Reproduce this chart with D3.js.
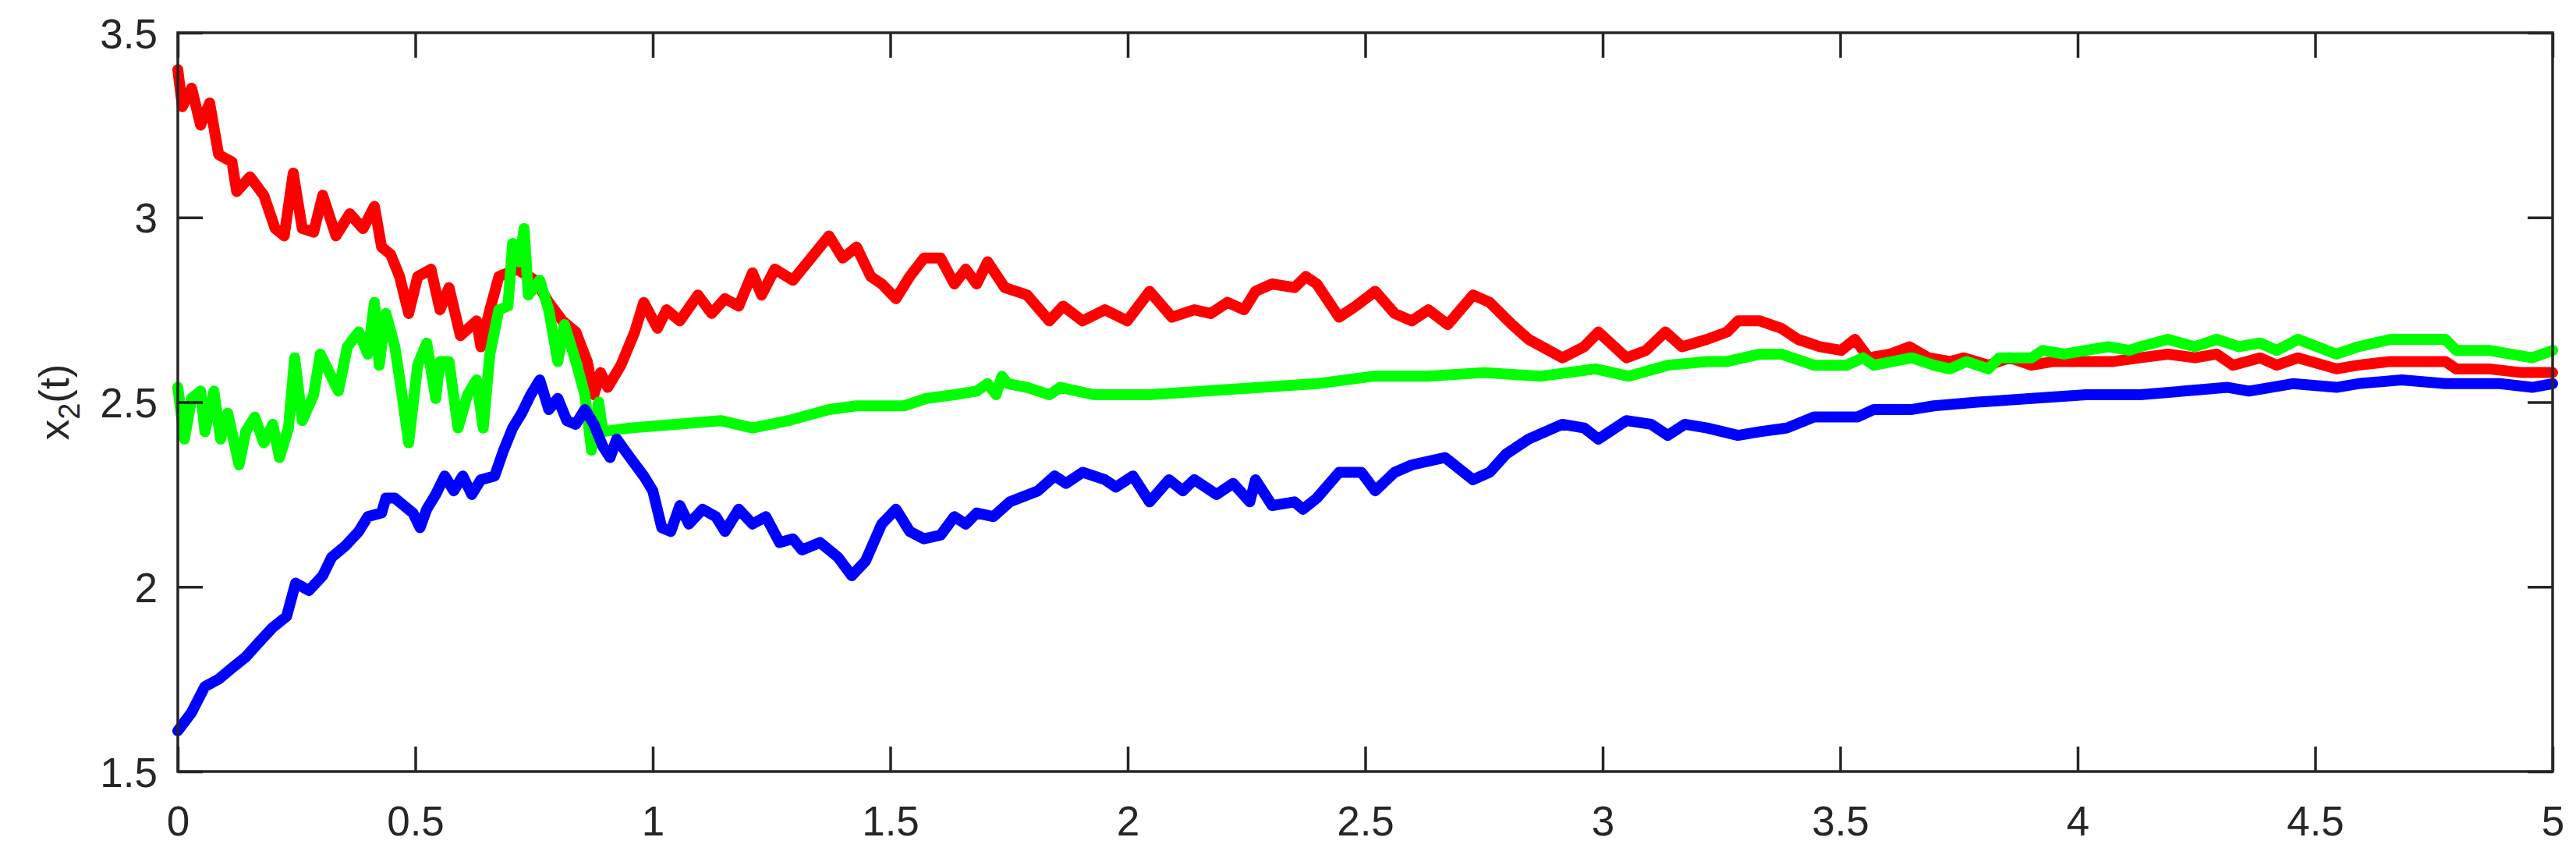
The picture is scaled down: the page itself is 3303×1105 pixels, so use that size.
<!DOCTYPE html>
<html>
<head>
<script src="https://cdnjs.cloudflare.com/ajax/libs/d3/7.8.5/d3.min.js"></script>
<style>
  body { margin: 0; background: #fff; }
  svg text { font-family: "Liberation Sans", Arial, sans-serif; fill: #262626; }
</style>
</head>
<body>
<svg id="chart" width="3303" height="1105"></svg>
<script>
// values: [t, x2(t)]
var redSeries = [
 [0,3.40],[0.0095,3.30],[0.029,3.35],[0.048,3.25],[0.067,3.31],[0.086,3.17],[0.114,3.15],[0.124,3.07],
 [0.152,3.11],[0.181,3.06],[0.205,2.97],[0.224,2.95],[0.243,3.12],[0.262,2.97],[0.286,2.96],[0.305,3.06],
 [0.333,2.95],[0.362,3.01],[0.390,2.97],[0.414,3.03],[0.429,2.92],[0.448,2.90],[0.467,2.84],[0.486,2.74],
 [0.505,2.84],[0.533,2.86],[0.552,2.75],[0.571,2.81],[0.595,2.68],[0.629,2.72],[0.638,2.65],[0.657,2.75],
 [0.676,2.84],[0.714,2.86],[0.752,2.83],[0.781,2.77],[0.810,2.72],[0.838,2.69],[0.862,2.61],[0.876,2.52],
 [0.890,2.58],[0.905,2.54],[0.933,2.60],[0.962,2.69],[0.981,2.77],[1.010,2.70],[1.029,2.75],[1.057,2.72],
 [1.095,2.79],[1.124,2.74],[1.152,2.78],[1.181,2.76],[1.210,2.85],[1.229,2.79],[1.257,2.86],[1.295,2.83],
 [1.333,2.89],[1.371,2.95],[1.400,2.89],[1.429,2.92],[1.459,2.84],[1.482,2.82],[1.512,2.78],[1.541,2.84],
 [1.571,2.89],[1.606,2.89],[1.635,2.82],[1.659,2.86],[1.682,2.82],[1.705,2.88],[1.741,2.81],[1.788,2.79],
 [1.835,2.72],[1.864,2.76],[1.905,2.72],[1.952,2.75],[1.999,2.72],[2.046,2.80],[2.093,2.73],[2.140,2.75],
 [2.175,2.74],[2.210,2.77],[2.245,2.75],[2.269,2.80],[2.304,2.82],[2.351,2.81],[2.375,2.84],[2.398,2.82],
 [2.445,2.73],[2.480,2.76],[2.521,2.80],[2.562,2.74],[2.598,2.72],[2.633,2.75],[2.674,2.71],[2.727,2.79],
 [2.762,2.77],[2.809,2.71],[2.844,2.67],[2.915,2.62],[2.961,2.65],[2.991,2.69],[3.050,2.62],[3.091,2.64],
 [3.132,2.69],[3.167,2.65],[3.220,2.67],[3.262,2.69],[3.285,2.72],[3.331,2.72],[3.376,2.70],[3.411,2.67],
 [3.457,2.65],[3.502,2.64],[3.531,2.67],[3.560,2.62],[3.605,2.63],[3.646,2.65],[3.686,2.62],[3.731,2.61],
 [3.760,2.62],[3.812,2.60],[3.857,2.62],[3.903,2.60],[3.949,2.61],[4.018,2.61],[4.075,2.61],[4.132,2.62],
 [4.190,2.63],[4.247,2.62],[4.293,2.63],[4.327,2.60],[4.384,2.62],[4.419,2.60],[4.464,2.62],[4.545,2.59],
 [4.591,2.60],[4.659,2.61],[4.705,2.61],[4.774,2.61],[4.797,2.59],[4.866,2.59],[4.934,2.58],[5.000,2.58]
];
var greenSeries = [
 [0,2.54],[0.014,2.40],[0.029,2.51],[0.048,2.53],[0.057,2.42],[0.076,2.53],[0.090,2.40],[0.105,2.47],
 [0.129,2.33],[0.143,2.42],[0.162,2.46],[0.181,2.39],[0.200,2.44],[0.214,2.35],[0.233,2.43],[0.246,2.62],
 [0.262,2.45],[0.286,2.52],[0.300,2.63],[0.319,2.58],[0.338,2.53],[0.357,2.65],[0.381,2.69],[0.400,2.63],
 [0.414,2.77],[0.424,2.60],[0.438,2.74],[0.457,2.65],[0.471,2.53],[0.486,2.39],[0.505,2.60],[0.524,2.66],
 [0.543,2.51],[0.552,2.61],[0.571,2.61],[0.590,2.43],[0.610,2.52],[0.629,2.56],[0.643,2.43],[0.657,2.63],
 [0.676,2.75],[0.695,2.76],[0.705,2.93],[0.719,2.88],[0.729,2.97],[0.738,2.79],[0.762,2.83],[0.781,2.75],
 [0.800,2.61],[0.814,2.71],[0.838,2.61],[0.857,2.52],[0.871,2.37],[0.886,2.50],[0.895,2.42],[0.952,2.43],
 [1.048,2.44],[1.143,2.45],[1.210,2.43],[1.286,2.45],[1.371,2.48],[1.429,2.49],[1.529,2.49],[1.576,2.51],
 [1.635,2.52],[1.682,2.53],[1.705,2.55],[1.723,2.52],[1.735,2.57],[1.747,2.55],[1.788,2.54],[1.835,2.52],
 [1.858,2.54],[1.929,2.52],[2.046,2.52],[2.163,2.53],[2.281,2.54],[2.398,2.55],[2.516,2.57],[2.633,2.57],
 [2.750,2.58],[2.868,2.57],[2.985,2.59],[3.055,2.57],[3.137,2.60],[3.220,2.61],[3.262,2.61],[3.331,2.63],
 [3.376,2.63],[3.445,2.60],[3.514,2.60],[3.548,2.62],[3.571,2.60],[3.651,2.62],[3.697,2.60],[3.731,2.59],
 [3.766,2.61],[3.812,2.59],[3.835,2.62],[3.903,2.62],[3.926,2.64],[3.972,2.63],[4.018,2.64],[4.064,2.65],
 [4.109,2.64],[4.132,2.65],[4.190,2.67],[4.247,2.65],[4.293,2.67],[4.339,2.65],[4.384,2.66],[4.419,2.64],
 [4.464,2.67],[4.545,2.63],[4.591,2.65],[4.659,2.67],[4.705,2.67],[4.774,2.67],[4.797,2.64],[4.866,2.64],
 [4.957,2.62],[5.000,2.64]
];
var blueSeries = [
 [0,1.61],[0.029,1.66],[0.057,1.73],[0.086,1.75],[0.114,1.78],[0.143,1.81],[0.171,1.85],[0.200,1.89],
 [0.229,1.92],[0.248,2.01],[0.276,1.99],[0.305,2.03],[0.324,2.08],[0.352,2.11],[0.381,2.15],[0.400,2.19],
 [0.429,2.20],[0.438,2.24],[0.457,2.24],[0.476,2.22],[0.495,2.20],[0.510,2.16],[0.524,2.21],[0.543,2.25],
 [0.562,2.30],[0.581,2.26],[0.600,2.30],[0.619,2.25],[0.638,2.29],[0.667,2.30],[0.686,2.37],[0.705,2.43],
 [0.724,2.47],[0.743,2.52],[0.762,2.56],[0.781,2.48],[0.800,2.51],[0.819,2.45],[0.838,2.44],[0.857,2.48],
 [0.876,2.44],[0.895,2.38],[0.910,2.35],[0.924,2.40],[0.952,2.35],[0.981,2.30],[1.000,2.26],[1.019,2.16],
 [1.038,2.15],[1.057,2.22],[1.076,2.17],[1.105,2.21],[1.133,2.19],[1.152,2.15],[1.181,2.21],[1.210,2.17],
 [1.238,2.19],[1.267,2.12],[1.295,2.13],[1.314,2.10],[1.352,2.12],[1.390,2.08],[1.419,2.03],[1.448,2.07],
 [1.482,2.17],[1.512,2.21],[1.541,2.15],[1.571,2.13],[1.606,2.14],[1.635,2.19],[1.659,2.17],[1.682,2.20],
 [1.717,2.19],[1.752,2.23],[1.811,2.26],[1.846,2.30],[1.870,2.28],[1.905,2.31],[1.952,2.29],[1.975,2.27],
 [2.011,2.30],[2.046,2.23],[2.087,2.29],[2.116,2.26],[2.140,2.29],[2.187,2.25],[2.222,2.28],[2.257,2.23],
 [2.269,2.29],[2.304,2.22],[2.351,2.23],[2.369,2.21],[2.398,2.24],[2.445,2.31],[2.492,2.31],[2.521,2.26],
 [2.562,2.31],[2.598,2.33],[2.633,2.34],[2.668,2.35],[2.727,2.29],[2.762,2.31],[2.797,2.36],[2.844,2.40],
 [2.915,2.44],[2.961,2.43],[2.991,2.40],[3.050,2.45],[3.102,2.44],[3.137,2.41],[3.173,2.44],[3.220,2.43],
 [3.285,2.41],[3.331,2.42],[3.388,2.43],[3.445,2.46],[3.514,2.46],[3.537,2.46],[3.571,2.48],[3.651,2.48],
 [3.697,2.49],[3.789,2.50],[3.903,2.51],[4.018,2.52],[4.132,2.52],[4.224,2.53],[4.316,2.54],[4.361,2.53],
 [4.453,2.55],[4.545,2.54],[4.591,2.55],[4.682,2.56],[4.774,2.55],[4.820,2.55],[4.889,2.55],[4.957,2.54],
 [5.000,2.55]
];
var xTicks = [0, 0.5, 1, 1.5, 2, 2.5, 3, 3.5, 4, 4.5, 5];
var yTicks = [1.5, 2, 2.5, 3, 3.5];

var mLeft = 228, mRight = 3273, mTop = 42, mBottom = 989, tickLen = 32;
var svg = d3.select("#chart");
var x = d3.scaleLinear().domain([0, 5]).range([mLeft, mRight]);
var y = d3.scaleLinear().domain([1.5, 3.5]).range([mBottom, mTop]);

var plot = svg.append("g");
plot.append("clipPath").attr("id", "clip").append("rect")
  .attr("x", mLeft - 8).attr("y", mTop).attr("width", mRight - mLeft + 16).attr("height", mBottom - mTop);

var line = d3.line().x(function(d){ return x(d[0]); }).y(function(d){ return y(d[1]); });
[[redSeries, "#ff0000"], [greenSeries, "#00ff00"], [blueSeries, "#0000ff"]].forEach(function(s){
  plot.append("path").datum(s[0])
    .attr("d", line)
    .attr("fill", "none")
    .attr("stroke", s[1])
    .attr("stroke-width", 14)
    .attr("stroke-linejoin", "round")
    .attr("stroke-linecap", "round")
    .attr("clip-path", "url(#clip)");
});

// box and axes (MATLAB style, ticks inside, mirrored)
svg.append("rect").attr("x", mLeft).attr("y", mTop).attr("width", mRight - mLeft).attr("height", mBottom - mTop)
  .attr("fill", "none").attr("stroke", "#262626").attr("stroke-width", 3.5);

var gx = svg.append("g").attr("transform", "translate(0," + mBottom + ")")
  .call(d3.axisBottom(x).tickValues(xTicks).tickSize(-tickLen).tickPadding(44).tickFormat(d3.format("")));
var gxt = svg.append("g").attr("transform", "translate(0," + mTop + ")")
  .call(d3.axisTop(x).tickValues(xTicks).tickSize(-tickLen).tickFormat(""));
var gy = svg.append("g").attr("transform", "translate(" + mLeft + ",0)")
  .call(d3.axisLeft(y).tickValues(yTicks).tickSize(-tickLen).tickPadding(26).tickFormat(d3.format("")));
var gyr = svg.append("g").attr("transform", "translate(" + mRight + ",0)")
  .call(d3.axisRight(y).tickValues(yTicks).tickSize(-tickLen).tickFormat(""));
[gx, gxt, gy, gyr].forEach(function(g){
  g.select(".domain").remove();
  g.selectAll(".tick line").attr("stroke", "#262626").attr("stroke-width", 3.5);
  g.selectAll("text").style("font-size", "53px").attr("fill", "#262626")
    .style("font-family", "'Liberation Sans', Arial, sans-serif");
});
gy.selectAll("text").attr("dy", "0.36em");

var lbl = svg.append("text")
  .attr("transform", "translate(88," + ((mTop + mBottom) / 2) + ") rotate(-90)")
  .attr("text-anchor", "middle")
  .style("font-size", "53px");
lbl.append("tspan").text("x");
lbl.append("tspan").attr("dy", 14).style("font-size", "38px").text("2");
lbl.append("tspan").attr("dy", -14).text("(t)");
</script>
</body>
</html>
